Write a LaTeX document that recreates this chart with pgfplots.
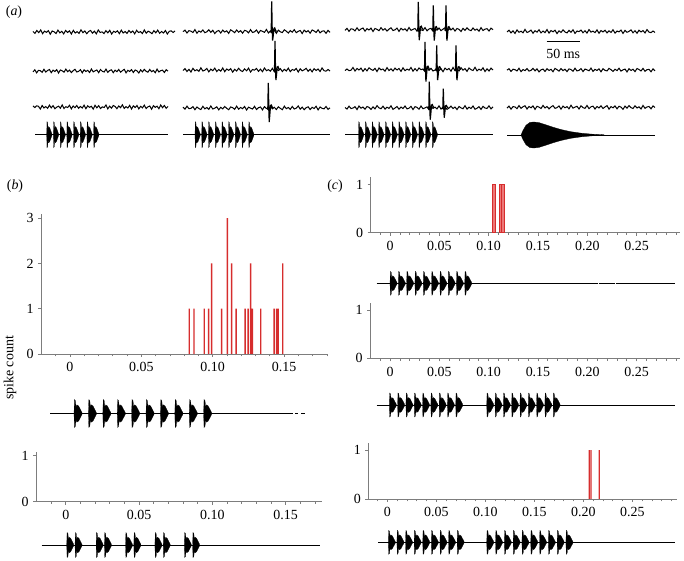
\documentclass[border=0pt]{standalone}
\usepackage{fontspec}
\setmainfont{Liberation Serif}
\usepackage{pgfplots}
\usepackage{pgfplotstable}
\pgfplotsset{compat=1.18}

\definecolor{barred}{RGB}{214,45,45}
\definecolor{barpink}{RGB}{236,120,120}
\definecolor{axgray}{RGB}{125,125,125}

% song pulse envelope (normalised: width 7, amplitude 1)
\pgfplotstableread{
x y
0 0
0.4 1
1.2 0.92
1.8 0.46
2.5 0.62
4 0.54
5.5 0.3
7 0.06
7 -0.06
5.5 -0.3
4 -0.54
2.5 -0.62
1.8 -0.46
1.2 -0.92
0.4 -1
0 0
}\pulsetab

% long tone envelope (panel a, last column)
\pgfplotstableread{
x y
0 0
2 0.35
5 0.75
9 0.97
13 1
18 0.95
25 0.78
32 0.6
40 0.42
50 0.25
60 0.14
70 0.07
83 0.02
83 -0.02
70 -0.07
60 -0.14
50 -0.25
40 -0.42
32 -0.6
25 -0.78
18 -0.95
13 -1
9 -0.97
5 -0.75
2 -0.35
0 0
}\tonetab

% spike waveform (normalised)
\pgfplotstableread{
x y
-1.5 0
-0.5 -0.08
0 1
0.5 0.05
0.9 -1
1.5 -0.5
2.2 0.1
3.0 0.12
4.0 0.03
5.0 0
}\spiketab

% recorded background noise (px)
\pgfplotstableread{
x y1 y2
0 0.3 -0.5
2 -0.8 0.7
4 0.9 -1.1
6 -0.4 0.4
8 1.2 0.2
10 -1.0 -0.8
12 0.5 1.0
14 -0.2 -0.6
16 0.8 0.3
18 -1.3 0.9
20 0.6 -1.0
22 0.1 0.5
24 -0.9 -0.3
26 1.1 0.8
28 -0.5 -1.2
30 0.4 0.6
32 -1.1 0.1
34 0.9 -0.7
36 -0.3 1.1
38 0.7 -0.4
40 -1.2 0.5
42 1.0 -0.9
44 -0.6 0.2
46 0.2 1.0
48 -0.8 -0.6
50 1.3 -0.2
52 -0.4 0.8
54 0.6 -1.1
56 -1.0 0.7
58 0.3 -0.3
60 0.9 0.4
62 -0.7 -0.9
64 0.5 1.2
66 -1.1 -0.5
68 1.2 0.1
70 -0.3 0.6
72 0.1 -1.0
74 -0.9 0.9
76 0.8 -0.2
78 -0.5 -0.6
80 1.0 1.1
82 -1.2 -0.8
84 0.4 0.3
86 -0.2 0.7
88 0.7 -1.0
90 -1.0 0.5
92 1.1 -0.4
94 -0.6 0.9
96 0.3 -0.7
98 -0.8 0.2
100 0.9 1.0
102 -0.4 -1.1
104 0.6 0.4
106 -1.1 -0.3
108 1.0 0.8
110 -0.3 -0.9
112 0.2 0.6
114 -0.9 0.1
116 1.2 -1.2
118 -0.7 0.7
120 0.5 -0.5
122 -0.1 1.0
124 -1.0 -0.2
126 0.8 -0.7
128 -0.5 0.9
130 1.1 -0.4
132 -0.8 0.3
134 0.3 -1.0
136 -0.6 1.1
138 0.9 -0.6
140 -1.2 0.2
142 0.4 0.5
144 0.7 -0.9
146 -0.3 0.8
148 0.6 -0.1
}\noisetab

% spike counts, panel b
\pgfplotstableread{
x y
0.0836 1
0.0869 1
0.0941 1
0.0972 1
0.0993 2
0.1063 1
0.1103 3
0.1133 2
0.1164 1
0.1227 1
0.1248 1
0.1266 2
0.1278 1
0.1337 1
0.1430 1
0.1448 1
0.1458 1
0.1491 2
}\countsb

\newcommand{\pulsetrain}[6]{% x0, step, n-1, y0, sx, amp
  \pgfplotsinvokeforeach{0,...,#3}{%
    \addplot[fill=black, draw=black, line width=0.2bp, forget plot] table[x expr={#1+#2*##1+#5*\thisrow{x}}, y expr={#4-#6*\thisrow{y}}] {\pulsetab};
  }%
}
\newcommand{\spike}[4]{% x, base, up, down
  \addplot[black, line width=1.2bp, forget plot] table[x expr={#1+\thisrow{x}}, y expr={#2-((\thisrow{y}>0) ? #3*\thisrow{y} : #4*\thisrow{y})}] {\spiketab};
}
\newcommand{\noisetrace}[5]{% x0, len, base, column, amp
  \addplot[black, line width=1bp, forget plot] table[x expr={#1+\thisrow{x}*#2/148}, y expr={#3-#5*\thisrow{#4}}] {\noisetab};
}
\newcommand{\noisetraceR}[5]{%
  \addplot[black, line width=1bp, forget plot] table[x expr={#1+(148-\thisrow{x})*#2/148}, y expr={#3-#5*\thisrow{#4}}] {\noisetab};
}

\pgfplotsset{histo/.style={
  scale only axis,
  axis x line=bottom, axis y line=left,
  axis line style={-, draw=axgray, line width=0.9bp},
  every tick/.style={draw=axgray, line width=0.7bp},
  tick align=outside,
  major tick length=3bp, minor tick length=2.3bp,
  ymin=0,
  tick label style={font=\fontsize{14}{16}\selectfont, text=black},
  /pgf/number format/assume math mode=true,
  xticklabel style={yshift=-2bp},
  yticklabel style={xshift=-1bp},
}}

\begin{document}
\begin{tikzpicture}
\useasboundingbox (0,0) rectangle (684bp,561bp);

% ---------------- panel b, upper ----------------
\begin{axis}[histo, at={(41bp,207bp)}, anchor=south west,
  width=287bp, height=140.4bp,
  xmin=-0.0203, xmax=0.1808, ymax=3.1,
  xtick={0,0.05,0.1,0.15}, xticklabels={0,0.05,0.10,0.15},
  minor xtick={-0.01,0.01,0.02,0.03,0.04,0.06,0.07,0.08,0.09,0.11,0.12,0.13,0.14,0.16,0.17,0.18},
  ytick={0,1,2,3}]
\addplot[ybar, bar shift=0pt, bar width=1.4bp, fill=barred, draw=none] table {\countsb};
\end{axis}

% ---------------- panel b, lower ----------------
\begin{axis}[histo, at={(36bp,59.3bp)}, anchor=south west,
  width=286bp, height=50bp,
  xmin=-0.0203, xmax=0.1748, ymax=1.09,
  xtick={0,0.05,0.1,0.15}, xticklabels={0,0.05,0.10,0.15},
  minor xtick={-0.01,0.01,0.02,0.03,0.04,0.06,0.07,0.08,0.09,0.11,0.12,0.13,0.14,0.16,0.17},
  ytick={0,1}]
\addplot[draw=none, forget plot] coordinates {(0,0)};
\end{axis}

% ---------------- panel c, top ----------------
\begin{axis}[histo, at={(370.7bp,328.3bp)}, anchor=south west,
  width=309.3bp, height=56bp,
  xmin=-0.0196, xmax=0.294, ymax=1.16,
  xtick={0,0.05,0.1,0.15,0.2,0.25}, xticklabels={0,0.05,0.10,0.15,0.20,0.25},
  minor xtick={-0.01,0.01,0.02,0.03,0.04,0.06,0.07,0.08,0.09,0.11,0.12,0.13,0.14,0.16,0.17,0.18,0.19,0.21,0.22,0.23,0.24,0.26,0.27,0.28,0.29},
  ytick={0,1}]
\addplot[ybar, bar shift=0pt, bar width=3.4bp, fill=barpink, draw=barred, line width=0.6bp] coordinates {(0.1054,1)};
\addplot[ybar, bar shift=0pt, bar width=2.3bp, fill=barpink, draw=barred, line width=0.6bp] coordinates {(0.1120,1) (0.1143,1)};
\end{axis}

% ---------------- panel c, middle ----------------
\begin{axis}[histo, at={(370bp,202.7bp)}, anchor=south west,
  width=310bp, height=55bp,
  xmin=-0.0203, xmax=0.294, ymax=1.14,
  xtick={0,0.05,0.1,0.15,0.2,0.25}, xticklabels={0,0.05,0.10,0.15,0.20,0.25},
  minor xtick={-0.01,0.01,0.02,0.03,0.04,0.06,0.07,0.08,0.09,0.11,0.12,0.13,0.14,0.16,0.17,0.18,0.19,0.21,0.22,0.23,0.24,0.26,0.27,0.28,0.29},
  ytick={0,1}]
\addplot[draw=none, forget plot] coordinates {(0,0)};
\end{axis}

% ---------------- panel c, bottom ----------------
\begin{axis}[histo, at={(368.3bp,62bp)}, anchor=south west,
  width=308.4bp, height=55.7bp,
  xmin=-0.0194, xmax=0.2953, ymax=1.14,
  xtick={0,0.05,0.1,0.15,0.2,0.25}, xticklabels={0,0.05,0.10,0.15,0.20,0.25},
  minor xtick={-0.01,0.01,0.02,0.03,0.04,0.06,0.07,0.08,0.09,0.11,0.12,0.13,0.14,0.16,0.17,0.18,0.19,0.21,0.22,0.23,0.24,0.26,0.27,0.28,0.29},
  ytick={0,1}]
\addplot[ybar, bar shift=0pt, bar width=1.3bp, fill=barred, draw=none] coordinates {(0.2060,1) (0.2078,1) (0.2163,1)};
\end{axis}

% ---------------- overlay: traces and songs (pixel coordinates) ----------------
\begin{axis}[at={(0,0)}, anchor=south west, scale only axis,
  width=684bp, height=561bp, xmin=0, xmax=684, ymin=0, ymax=561,
  y dir=reverse, hide axis, clip=false]

% panel a, column 1
\noisetrace{33}{142}{32}{y1}{1.7}
\noisetrace{33}{135}{71}{y2}{1.7}
\noisetraceR{33}{135}{107}{y1}{1.7}
\addplot[black, line width=1bp] coordinates {(35,134.7) (168,134.7)};
\pulsetrain{46.7}{6.7}{7}{134.7}{0.75}{13}

% panel a, column 2
\noisetraceR{183}{147}{31.5}{y2}{1.7}
\noisetrace{183}{147}{70}{y1}{-1.7}
\noisetrace{183}{147}{108}{y2}{-1.7}
\spike{271.7}{31.5}{30}{9}
\spike{275}{70}{29}{10}
\spike{268.3}{108}{25}{14}
\addplot[black, line width=1bp] coordinates {(183,134.7) (330,134.7)};
\pulsetrain{195}{6.7}{8}{134.7}{0.75}{13}

% panel a, column 3
\noisetrace{345}{148}{29.5}{y2}{1.7}
\noisetraceR{345}{148}{69.5}{y1}{-1.7}
\noisetraceR{345}{148}{107.7}{y2}{-1.7}
\spike{418.3}{29.5}{27.6}{10.7}
\spike{433.3}{29.5}{24}{11}
\spike{446}{29.5}{24}{11}
\spike{425}{69.5}{27.6}{12}
\spike{436.7}{69.5}{24}{10.7}
\spike{456}{69.5}{24}{10.7}
\spike{429.3}{107.7}{26}{12}
\spike{443.3}{107.7}{19}{10}
\addplot[black, line width=1bp] coordinates {(345,134.7) (493,134.7)};
\pulsetrain{358.5}{6.7}{11}{134.7}{0.75}{13}

% panel a, column 4
\noisetrace{507}{148}{31.5}{y1}{-1.6}
\noisetraceR{507}{148}{70}{y2}{1.6}
\noisetrace{507}{148}{107.3}{y2}{1.7}
\addplot[black, line width=1bp] coordinates {(507,135) (655,135)};
\addplot[fill=black, draw=black, line width=0.3bp] table[x expr={521+\thisrow{x}}, y expr={135-13*\thisrow{y}}] {\tonetab};
\addplot[black, line width=1.1bp] coordinates {(546.7,41.3) (580,41.3)};
\node[font=\fontsize{14}{16}\selectfont] at (axis cs:563.3,53.5) {50 ms};

% panel b, songs
\addplot[black, line width=1bp] coordinates {(50,413.5) (293,413.5)};
\addplot[black, line width=1bp] coordinates {(295,413.5) (298,413.5)};
\addplot[black, line width=1bp] coordinates {(301,413.5) (305,413.5)};
\pulsetrain{74}{14.4}{9}{413.5}{1.15}{14}
\addplot[black, line width=1bp] coordinates {(41.7,545) (320,545)};
\pulsetrain{66.7}{29.4}{4}{545}{1.0}{12.5}
\pulsetrain{75}{29.4}{4}{545}{1.0}{12.5}

% panel c, songs
\addplot[black, line width=1bp] coordinates {(376.7,283.3) (597.5,283.3)};
\addplot[black, line width=1bp] coordinates {(598.7,283.3) (614.5,283.3)};
\addplot[black, line width=1bp] coordinates {(615.7,283.3) (675,283.3)};
\pulsetrain{390}{8.3}{9}{283.3}{1.0}{12}
\addplot[black, line width=1bp] coordinates {(376.7,405) (675,405)};
\pulsetrain{389.3}{8.3}{8}{405}{1.0}{12}
\pulsetrain{486.7}{8.3}{8}{405}{1.0}{12}
\addplot[black, line width=1bp] coordinates {(378.3,542.3) (675,542.3)};
\pulsetrain{388.3}{8.6}{8}{542.3}{1.0}{12}
\pulsetrain{486.7}{8.8}{9}{542.3}{1.0}{12}

% labels
\node[font=\fontsize{14}{16}\selectfont] at (axis cs:14,12) {(\textit{a})};
\node[font=\fontsize{14}{16}\selectfont] at (axis cs:15,186.5) {(\textit{b})};
\node[font=\fontsize{14}{16}\selectfont] at (axis cs:335,186.5) {(\textit{c})};
\node[font=\fontsize{14}{16}\selectfont, rotate=90] at (axis cs:10,368) {spike count};
\end{axis}
\end{tikzpicture}
\end{document}
